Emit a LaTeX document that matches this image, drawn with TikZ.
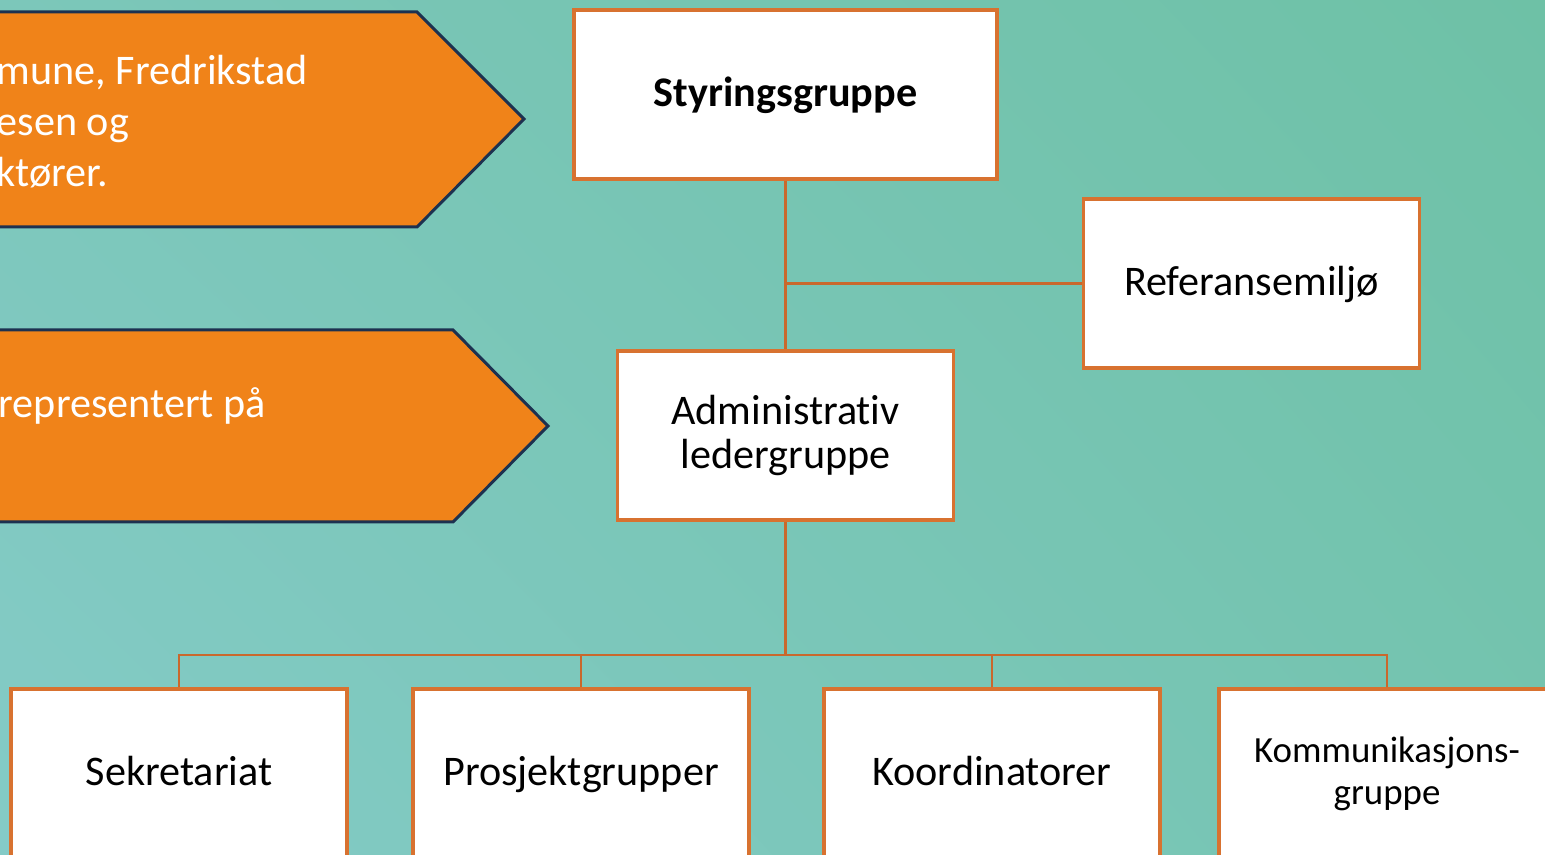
\documentclass[tikz,border=0pt]{standalone}
\usepackage{fontspec}
\setmainfont{Carlito}[Ligatures=NoCommon]
\usetikzlibrary{shadings}
\definecolor{bgTR}{RGB}{110,193,166}
\definecolor{bgBL}{RGB}{132,203,199}
\definecolor{bgTL}{RGB}{124,199,186}
\definecolor{bgBR}{RGB}{117,196,176}
\definecolor{boxline}{RGB}{216,114,48}
\definecolor{linkline}{RGB}{201,104,44}
\definecolor{arrowfill}{RGB}{240,131,25}
\definecolor{arrowline}{RGB}{29,49,80}
\tikzset{
  orgbox/.style={draw=boxline,line width=1.1pt,fill=white,rectangle,
    minimum width=33.6mm,minimum height=16.9mm,align=center,
    font=\fontsize{12}{12.8}\selectfont},
  oneline/.style={text height=0.94em,text depth=0.24em},
  link/.style={draw=linkline,line width=0.8pt},
  banner/.style={draw=arrowline,line width=0.85pt,fill=arrowfill},
  bannertext/.style={text=white,align=left,inner sep=0pt,anchor=north west,
    font=\fontsize{12}{14.5}\selectfont}
}
\begin{document}
\begin{tikzpicture}[x=0.1mm,y=-0.1mm]
% background
\clip (0,0) rectangle (1545,855);
\shade[upper right=bgTR,lower left=bgBL,upper left=bgTL,lower right=bgBR]
  (0,0) rectangle (1545,855);
% orange arrows on the left
\draw[banner] (-30,12) -- (417,12) -- (524,119) -- (417,227) -- (-30,227) -- cycle;
\node[bannertext] (banA) at (-4,55) {mune, Fredrikstad\\esen og\\ktører.};
\draw[banner] (-30,330) -- (453,330) -- (548,426) -- (453,522) -- (-30,522) -- cycle;
\node[bannertext] (banB) at (-2,387) {representert på};
% top levels
\node[orgbox,oneline,minimum width=42.3mm,font=\fontsize{12}{12.8}\selectfont\bfseries] (styr) at (785.5,94.5) {Styringsgruppe};
\node[orgbox,oneline] (ref) at (1251.5,283.5) {Referansemiljø};
\node[orgbox] (adm) at (785.5,435.5) {Administrativ\\ledergruppe};
% bottom row
\node[orgbox,oneline] (sek) at (179,773.5) {Sekretariat};
\node[orgbox,oneline] (pro) at (581,773.5) {Prosjektgrupper};
\node[orgbox,oneline] (koo) at (992,773.5) {Koordinatorer};
\node[orgbox,font=\fontsize{10.5}{12}\selectfont] (kom) at (1387,773.5) {Kommunikasjons-\\gruppe};
% connectors
\coordinate (bus) at (785.5,655);
\draw[link] (styr.south) -- (adm.north);
\draw[link] (ref.west) -- (ref.west -| styr.south);
\draw[link] (adm.south) -- (bus);
\foreach \b in {sek,pro,koo,kom}
  \draw[link] (\b.north) |- (bus);
\end{tikzpicture}
\end{document}
